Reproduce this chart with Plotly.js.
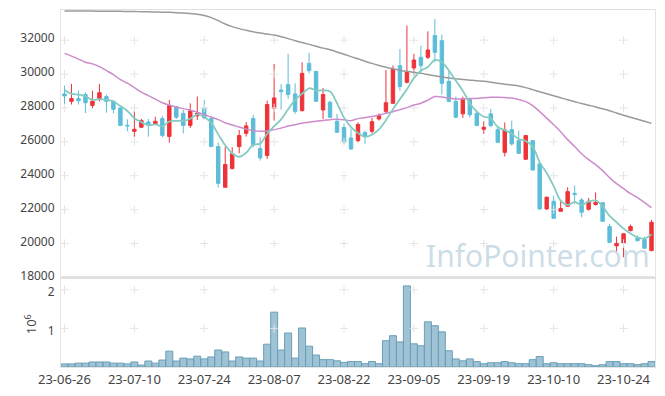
<!DOCTYPE html>
<html>
<head>
<meta charset="utf-8">
<script src="https://cdn.plot.ly/plotly-3.0.1.min.js"></script>
<style>
  html, body { margin: 0; padding: 0; background: #ffffff; }
  #chart { width: 665px; height: 396px; }
</style>
</head>
<body>
<div id="chart"></div>
<script>
// ---- data ----
const dates = [
  '23-06-26','23-06-27','23-06-28','23-06-29','23-06-30',
  '23-07-03','23-07-04','23-07-05','23-07-06','23-07-07',
  '23-07-10','23-07-11','23-07-12','23-07-13','23-07-14',
  '23-07-17','23-07-18','23-07-19','23-07-20','23-07-21',
  '23-07-24','23-07-25','23-07-26','23-07-27','23-07-28',
  '23-07-31','23-08-01','23-08-02','23-08-03','23-08-04',
  '23-08-07','23-08-08','23-08-09','23-08-10','23-08-11',
  '23-08-14','23-08-16','23-08-17','23-08-18','23-08-21',
  '23-08-22','23-08-23','23-08-24','23-08-25','23-08-28',
  '23-08-29','23-08-30','23-08-31','23-09-01','23-09-04',
  '23-09-05','23-09-06','23-09-07','23-09-08','23-09-11',
  '23-09-12','23-09-13','23-09-14','23-09-15','23-09-18',
  '23-09-19','23-09-20','23-09-21','23-09-22','23-09-25',
  '23-09-26','23-09-27','23-10-04','23-10-05','23-10-06',
  '23-10-10','23-10-11','23-10-12','23-10-13','23-10-16',
  '23-10-17','23-10-18','23-10-19','23-10-20','23-10-23',
  '23-10-24','23-10-25','23-10-26','23-10-27','23-10-30'
];

const openPrices = [
  28830,28390,28550,28790,28150,28550,28670,28390,28000,26970,
  26620,26860,27170,27050,27370,26320,28080,27680,26970,27530,
  28000,27370,25720,23320,24420,25720,26500,27370,25600,25190,
  27980,29060,29380,28830,27840,30630,30160,27880,28330,27210,
  26850,26230,26070,26560,26620,27350,27800,28270,30500,29510,
  30360,30990,30990,32270,31970,29570,28390,27650,28490,27680,
  26740,27650,26720,25380,26720,26070,24970,26070,24700,22040,
  22490,21900,22200,22960,22570,22020,22300,22410,21000,19860,
  20010,20760,20330,20230,19580
];
const highPrices = [
  29320,29420,29020,28920,29020,29420,28790,28470,28030,27330,
  27880,27350,27350,27480,27530,28470,28120,27880,28270,28670,
  28470,27530,25970,25720,25680,26700,27170,27600,26270,28430,
  30600,29400,31190,29450,30700,31250,30160,29180,28430,27650,
  27090,26760,27150,26620,27410,27680,30240,30500,31480,32860,
  31190,31680,32520,33250,32330,30240,28670,28670,28550,27840,
  27210,27940,26960,27140,27250,26660,26370,26100,24790,22770,
  22830,22490,23320,23420,22690,22690,23020,22410,21160,20410,
  20600,21120,20470,20410,21390
];
const lowPrices = [
  28040,28200,28200,27700,27980,28390,27720,27680,26970,26620,
  26300,26820,26300,27000,26260,25950,27350,26500,26820,27290,
  27330,25720,23310,23310,24380,25320,26310,25680,24890,24990,
  27250,27900,28530,27650,27800,30040,28390,27350,27410,26560,
  25880,25520,25970,25880,26500,27250,27650,28270,29020,29450,
  29910,30010,30890,30690,28790,28330,27410,27410,27440,26940,
  26470,26860,25940,25140,25780,25290,24930,24300,21980,21980,
  21450,21900,22180,22340,21550,21940,22240,21310,20010,19540,
  19190,20720,20110,19680,19540
];
const closePrices = [
  28710,28550,28430,28310,28390,28900,28390,27920,26970,26940,
  26740,27250,27010,27210,26380,28140,27450,26970,27840,27680,
  27410,25720,23550,24660,25300,26370,26940,25840,25050,28200,
  28590,28960,28790,27800,30040,30200,28390,28790,27450,26560,
  25970,25580,27020,26320,27190,27550,28310,30300,29260,30100,
  30830,30500,31420,31280,29450,28390,27450,28530,27600,26960,
  26860,26960,25970,26700,25880,25320,26370,24340,22040,22730,
  21490,22060,23060,22900,21840,22490,22430,21310,20070,20010,
  20570,21000,20170,19720,21250
];
const ma5 = [
  29060,28830,28790,28690,28480,28520,28480,28380,28110,27820,
  27390,27160,26980,27030,26920,27200,27240,27230,27360,27620,
  27470,27120,26440,25800,25330,25120,25360,25820,25900,26480,
  26920,27330,27920,28470,28840,29160,29040,29040,28970,28280,
  27430,26870,26520,26290,26420,26730,27280,27930,28520,29100,
  29760,30200,30420,30830,30700,30210,29600,29020,28280,27780,
  27480,27380,26870,26690,26470,26170,26050,25720,24790,24160,
  23390,22530,22280,22450,22270,22470,22540,22190,21630,21260,
  20880,20590,20360,20290,20540
];
const ma20 = [
  31220,31060,30880,30700,30600,30440,30200,29960,29670,29460,
  29200,28930,28730,28520,28310,28170,28050,27960,27870,27750,
  27600,27460,27310,27130,26990,26870,26750,26660,26620,26640,
  26720,26810,26930,27010,27100,27160,27220,27260,27310,27340,
  27310,27250,27370,27430,27490,27580,27690,27780,27900,28020,
  28170,28280,28460,28670,28640,28580,28530,28530,28550,28560,
  28600,28630,28630,28610,28580,28490,28370,28140,27780,27400,
  27010,26600,26130,25720,25300,24950,24650,24300,23890,23530,
  23240,22940,22710,22410,22120
];
const ma60 = [
  33720,33720,33720,33720,33715,33710,33705,33700,33700,33690,
  33690,33680,33670,33660,33650,33640,33620,33600,33570,33530,
  33450,33330,33150,32950,32800,32680,32580,32490,32420,32360,
  32300,32200,32090,31970,31860,31750,31640,31530,31430,31300,
  31170,31030,30900,30760,30630,30510,30400,30310,30230,30160,
  30100,30040,29970,29900,29830,29770,29720,29680,29640,29600,
  29570,29520,29460,29400,29350,29300,29200,29080,28960,28840,
  28720,28600,28480,28370,28260,28160,28060,27950,27830,27700,
  27570,27450,27330,27210,27090
];
const volumes = [
  80000,80000,100000,100000,130000,130000,130000,100000,100000,80000,
  130000,50000,155000,100000,180000,410000,155000,230000,210000,280000,
  210000,260000,440000,390000,155000,260000,230000,230000,155000,590000,
  1420000,440000,880000,230000,1010000,540000,310000,190000,190000,160000,
  120000,140000,140000,85000,140000,85000,680000,810000,650000,2100000,
  600000,550000,1170000,1070000,910000,420000,210000,160000,210000,140000,
  85000,110000,110000,140000,110000,85000,85000,190000,270000,85000,
  110000,85000,85000,85000,85000,60000,35000,60000,140000,140000,
  85000,85000,60000,85000,140000
];

const xTickLabels = ['23-06-26','23-07-10','23-07-24','23-08-07','23-08-22','23-09-05','23-09-19','23-10-10','23-10-24'];
const priceTicks = [18000,20000,22000,24000,26000,28000,30000,32000];
const priceTickText = ['18000','20000','22000','24000','26000','28000','30000','32000'];
const volTicks = [1000000, 2000000];
const volTickText = ['1','2'];

// ---- grid "+" marks at tick intersections ----
const gx = [], gy = [], vx = [], vy = [];
xTickLabels.forEach(d => {
  priceTicks.slice(1).forEach(p => { gx.push(d); gy.push(p); });
  volTicks.forEach(v => { vx.push(d); vy.push(v); });
});

const FONT = '"Noto Sans", "Open Sans", sans-serif';
const crossMarker = { symbol: 'cross-thin', size: 6, line: { color: '#e4e4e4', width: 1 } };

const traces = [
  { type: 'scatter', mode: 'markers', x: gx, y: gy, xaxis: 'x2', yaxis: 'y', marker: crossMarker, hoverinfo: 'skip', cliponaxis: true },
  { type: 'scatter', mode: 'markers', x: vx, y: vy, xaxis: 'x', yaxis: 'y2', marker: crossMarker, hoverinfo: 'skip', cliponaxis: true },
  { type: 'scatter', mode: 'lines', x: dates, y: ma60, xaxis: 'x2', yaxis: 'y',
    line: { color: '#9a9a9a', width: 1.5, shape: 'spline' }, hoverinfo: 'skip' },
  { type: 'scatter', mode: 'lines', x: dates, y: ma20, xaxis: 'x2', yaxis: 'y',
    line: { color: '#cc8ccc', width: 1.5, shape: 'spline' }, hoverinfo: 'skip' },
  { type: 'scatter', mode: 'lines', x: dates, y: ma5, xaxis: 'x2', yaxis: 'y',
    line: { color: '#85cbc2', width: 1.8, shape: 'spline' }, hoverinfo: 'skip' },
  { type: 'candlestick', x: dates, open: openPrices, high: highPrices, low: lowPrices, close: closePrices,
    xaxis: 'x2', yaxis: 'y',
    increasing: { line: { color: '#ee3338', width: 1 }, fillcolor: '#ee3338' },
    decreasing: { line: { color: '#5dbdd8', width: 1 }, fillcolor: '#5dbdd8' },
    whiskerwidth: 0, hoverinfo: 'skip' },
  { type: 'bar', x: dates, y: volumes, xaxis: 'x', yaxis: 'y2',
    marker: { color: 'rgba(135,180,203,0.8)', line: { color: '#6a9fb8', width: 1 } },
    hoverinfo: 'skip' }
];

const layout = {
  width: 665, height: 396,
  margin: { l: 61, r: 10, t: 10, b: 29, autoexpand: false },
  paper_bgcolor: '#ffffff', plot_bgcolor: '#ffffff',
  showlegend: false,
  bargap: 0,
  font: { family: FONT, size: 12, color: '#444444' },
  xaxis: {
    type: 'category', categoryorder: 'array', categoryarray: dates,
    range: [-0.5, dates.length - 0.5], autorange: false,
    anchor: 'y2', domain: [0, 1], automargin: false,
    tickmode: 'array', tickvals: xTickLabels, ticktext: xTickLabels,
    showgrid: false, ticks: '', tickangle: 0,
    showline: true, linecolor: '#e4e4e4', linewidth: 1, mirror: true,
    tickfont: { family: FONT, size: 13, color: '#444' }
  },
  xaxis2: {
    type: 'category', categoryorder: 'array', categoryarray: dates,
    matches: 'x', anchor: 'y', domain: [0, 1], automargin: false,
    showticklabels: false, showgrid: false, ticks: '',
    showline: true, linecolor: '#e0e0e0', linewidth: 1.5, mirror: true,
    rangeslider: { visible: false }
  },
  yaxis: {
    domain: [0.251, 1], range: [18000, 33780], automargin: false,
    tickmode: 'array', tickvals: priceTicks, ticktext: priceTickText,
    showgrid: false, zeroline: false, ticks: '',
    showline: true, linecolor: '#e4e4e4', linewidth: 1, mirror: true,
    ticklabelstandoff: 3, ticklabelshift: -2,
    tickfont: { family: FONT, size: 12, color: '#444' }
  },
  yaxis2: {
    domain: [0, 0.251], range: [0, 2320000], automargin: false,
    tickmode: 'array', tickvals: volTicks, ticktext: volTickText,
    showgrid: false, zeroline: false, ticks: '',
    showline: true, linecolor: '#e4e4e4', linewidth: 1, mirror: true,
    ticklabelstandoff: 3, ticklabelshift: 2,
    tickfont: { family: FONT, size: 12, color: '#444' }
  },
  annotations: [
    {
      text: 'InfoPointer.com', xref: 'paper', yref: 'paper',
      x: 0.803, y: 0.311, xanchor: 'center', yanchor: 'middle', showarrow: false,
      font: { family: FONT, size: 30, color: 'rgba(160,192,212,0.55)' }
    },
    {
      text: '10<sup>6</sup>', xref: 'paper', yref: 'paper',
      x: -0.052, y: 0.12, xanchor: 'center', yanchor: 'middle', showarrow: false,
      textangle: -90,
      font: { family: FONT, size: 13, color: '#444' }
    }
  ]
};

Plotly.newPlot('chart', traces, layout, { displayModeBar: false, staticPlot: true });
</script>
</body>
</html>
